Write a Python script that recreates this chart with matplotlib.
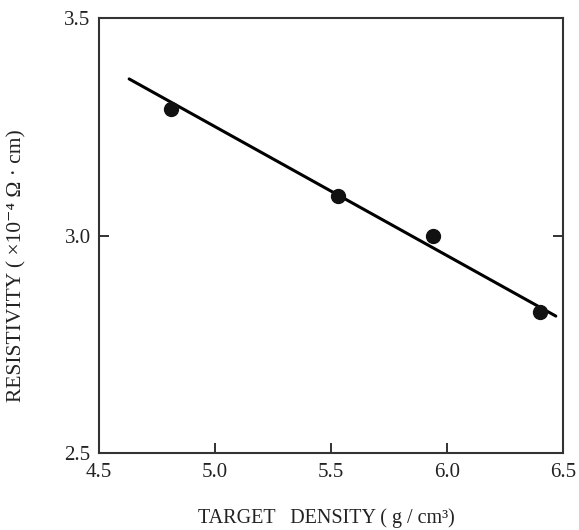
import matplotlib
matplotlib.use('Agg')
import matplotlib.pyplot as plt

density = [4.81, 5.53, 5.94, 6.40]
resistivity = [3.29, 3.09, 3.00, 2.825]
fit_x = [4.63, 6.47]
fit_y = [3.36, 2.815]

plt.rcParams['font.family'] = ['Liberation Serif', 'DejaVu Serif']

fig = plt.figure(figsize=(5.79, 5.30), dpi=100)
ax = fig.add_axes([0.171, 0.145, 0.801, 0.821])

ax.plot(fit_x, fit_y, color='black', linewidth=2.2, solid_capstyle='round')
ax.plot(density, resistivity, linestyle='None', marker='o', markersize=10, color='#111111')

ax.set_xlim(4.5, 6.5)
ax.set_ylim(2.5, 3.5)
ax.set_xticks([4.5, 5.0, 5.5, 6.0, 6.5])
ax.set_yticks([2.5, 3.0, 3.5])
ax.set_xticklabels(['4.5', '5.0', '5.5', '6.0', '6.5'])
ax.set_yticklabels(['2.5', '3.0', '3.5'])
ax.tick_params(axis='both', direction='in', right=True, top=False, length=7, width=1.3,
               labelsize=15, colors='#222222')
ax.tick_params(axis='x', pad=7)
ax.tick_params(axis='y', pad=6)
for s in ax.spines.values():
    s.set_linewidth(1.5)
    s.set_color('#333333')

ax.set_xlabel('TARGET   DENSITY ( g / cm³)', fontsize=14.5, color='#222222')
ax.xaxis.set_label_coords(0.49, -0.126)
ax.set_ylabel('RESISTIVITY ( ×10⁻⁴ Ω · cm)', fontsize=15.5, color='#222222')
ax.yaxis.set_label_coords(-0.157, 0.43)

fig.savefig('out.png', dpi=100)
